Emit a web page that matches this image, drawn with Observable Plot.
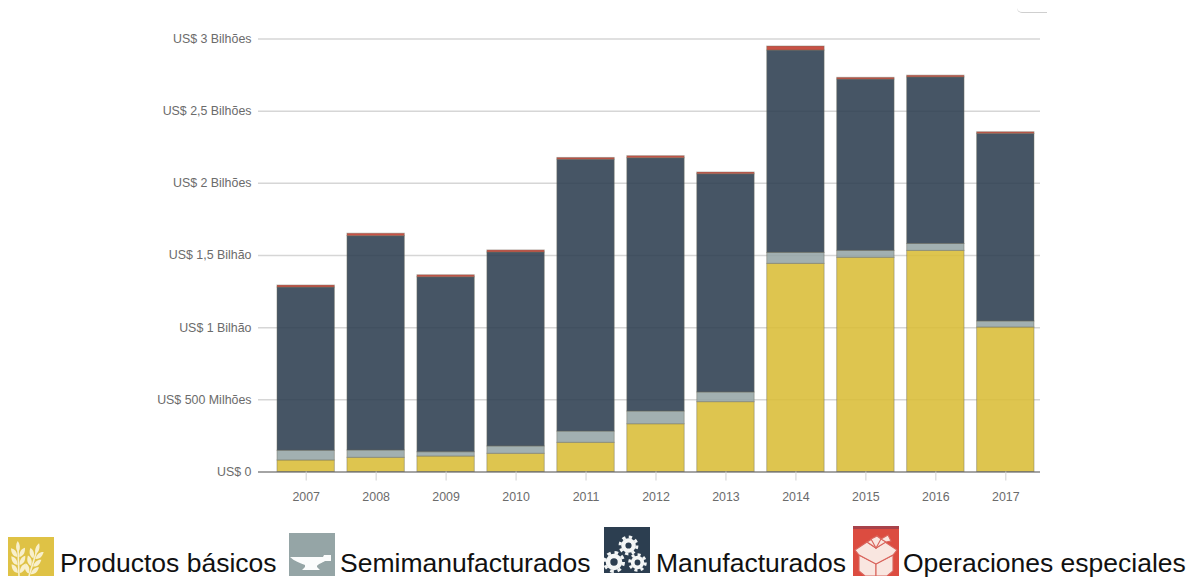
<!doctype html>
<html lang="pt">
<head>
<meta charset="utf-8">
<script src="https://cdn.jsdelivr.net/npm/d3@7"></script>
<script src="https://cdn.jsdelivr.net/npm/@observablehq/plot@0.6"></script>
<style>
  html, body { margin: 0; background: #fff; }
  #page { position: relative; width: 1195px; height: 579px; overflow: hidden; font-family: "Liberation Sans", Arial, sans-serif; }
  #chart svg { display: block; }
  .key { position: absolute; display: block; }
  .keytext { position: absolute; top: 547px; font-size: 26.5px; line-height: 32px; color: #111; white-space: nowrap; }
  #corner { position: absolute; left: 1017px; top: 7px; width: 30px; height: 5px; border-bottom: 1.5px solid #cfcfcf; border-bottom-left-radius: 5px; }
</style>
</head>
<body>
<div id="page">
  <div id="chart"></div>
  <div id="corner"></div>

  <!-- Legend: one small pictogram per series -->
  <svg class="key" style="left:8px;top:537px" width="46" height="39" viewBox="0 0 46 39">
    <defs>
      <g id="ear" fill="#f8f0cc">
        <path d="M0 36 V-2" stroke="#f8f0cc" stroke-width="1.6" fill="none"/>
        <path id="kernel-l" d="M-1 9 C-6 8 -7 4 -7 0 C-3 1 -1 4 -1 9 Z"/>
        <path d="M1 9 C6 8 7 4 7 0 C3 1 1 4 1 9 Z"/>
        <path d="M-1 17 C-6 16 -7 12 -7 8 C-3 9 -1 12 -1 17 Z"/>
        <path d="M1 17 C6 16 7 12 7 8 C3 9 1 12 1 17 Z"/>
        <path d="M-1 25 C-6 24 -7 20 -7 16 C-3 17 -1 20 -1 25 Z"/>
        <path d="M1 25 C6 24 7 20 7 16 C3 17 1 20 1 25 Z"/>
        <path d="M0 4 C-3 1 -2 -4 0 -7 C2 -4 3 1 0 4 Z"/>
      </g>
    </defs>
    <rect width="46" height="39" fill="#dfc245"/>
    <use href="#ear" transform="translate(10 11) rotate(-2)"/>
    <use href="#ear" transform="translate(29 13) rotate(17)"/>
  </svg>
  <div class="keytext" style="left:60px">Productos básicos</div>

  <svg class="key" style="left:289px;top:533px" width="46" height="43" viewBox="0 0 46 43">
    <rect width="46" height="43" fill="#95a5a6"/>
    <path d="M1 24 H34 L35 22 H42 V28 H36 C33 30 29 31 28 33 V34 L31 37 H13 L16 34 V32 C11 30 5 28 1 24 Z" fill="#fbfcfc"/>
  </svg>
  <div class="keytext" style="left:340px">Semimanufacturados</div>

  <svg class="key" style="left:604px;top:527px" width="46" height="46" viewBox="0 0 46 46">
    <rect width="46" height="46" fill="#2c3e50"/>
    <g fill="none" stroke="#f4f6f6">
      <circle cx="24.5" cy="18.5" r="5.2" stroke-width="4.2"/>
      <circle cx="24.5" cy="18.5" r="8.4" stroke-width="3" stroke-dasharray="3.3 3.3"/>
      <circle cx="10" cy="35" r="6" stroke-width="4.6"/>
      <circle cx="10" cy="35" r="9.5" stroke-width="3" stroke-dasharray="3.7 3.8"/>
      <circle cx="33.5" cy="35.5" r="4.8" stroke-width="3.8"/>
      <circle cx="33.5" cy="35.5" r="7.8" stroke-width="3" stroke-dasharray="3 3.1"/>
    </g>
  </svg>
  <div class="keytext" style="left:656px">Manufacturados</div>

  <svg class="key" style="left:853px;top:526px" width="46" height="50" viewBox="0 0 46 50">
    <rect width="46" height="50" fill="#dc4c40"/>
    <rect width="46" height="3" fill="#a8424a"/>
    <g fill="#f9e6e0" stroke="#d9645c" stroke-width="1.1">
      <path d="M6 29 L23 38 V50 H12 L6 45 Z"/>
      <path d="M40 29 L23 38 V50 H34 L40 45 Z"/>
      <path d="M6 29 L2 24 L14 16 L23 22 L32 16 L44 24 L40 29 L23 38 Z"/>
      <path d="M14 16 L24 10 L33 16 L23 22 Z"/>
      <path d="M18 13 L23 22 L28 13 L24 10 Z"/>
      <path d="M28 13 L35 9 L38 15 L33 16 Z"/>
    </g>
  </svg>
  <div class="keytext" style="left:903px">Operaciones especiales</div>
</div>

<script>
// Annual totals per category, in millions of US dollars
const years = ["2007","2008","2009","2010","2011","2012","2013","2014","2015","2016","2017"];
const basicos   = [80, 98, 107, 126, 202, 331, 484, 1442, 1484, 1532, 1001];
const semi      = [67, 51, 30, 51, 78, 88, 67, 76, 48, 48, 42];
const manufact  = [1131, 1485, 1212, 1344, 1884, 1755, 1512, 1402, 1187, 1154, 1300];
const especiais = [14, 17, 14, 14, 12, 14, 12, 28, 12, 12, 11];

const seriesNames  = ["Productos básicos", "Semimanufacturados", "Manufacturados", "Operaciones especiales"];
const seriesValues = [basicos, semi, manufact, especiais];
const seriesColors = ["#dabd37", "#95a5a6", "#2c3e50", "#c0392b"];

const yTicks  = [0, 500, 1000, 1500, 2000, 2500, 3000];
const yLabels = ["US$ 0", "US$ 500 Milhões", "US$ 1 Bilhão", "US$ 1,5 Bilhão", "US$ 2 Bilhões", "US$ 2,5 Bilhões", "US$ 3 Bilhões"];

// Long table, stacked in series order
const rows = seriesNames.flatMap((name, s) =>
  years.map((year, i) => ({year, name, value: seriesValues[s][i]}))
);

const plot = Plot.plot({
  width: 1195,
  height: 510,
  marginTop: 38.5,
  marginBottom: 38.5,
  marginLeft: 258,
  marginRight: 155,
  style: {fontFamily: '"Liberation Sans", Arial, sans-serif', fontSize: "12.4px", background: "transparent"},
  x: {domain: years, paddingInner: 0.18, paddingOuter: 0.1786, align: 0.76, round: false, label: null},
  y: {domain: [0, 3000], label: null},
  color: {domain: seriesNames, range: seriesColors},
  marks: [
    Plot.ruleY(yTicks.slice(1), {stroke: "#d6d6d6", strokeWidth: 1.5}),
    Plot.barY(rows, {
      x: "year",
      y: "value",
      z: "name",
      fill: "name",
      fillOpacity: 0.88,
      stroke: "#6f6f5f",
      strokeOpacity: 0.45,
      strokeWidth: 1
    }),
    Plot.ruleY([0], {stroke: "#4a4a4a", strokeWidth: 1.2}),
    Plot.axisY({
      ticks: yTicks,
      tickSize: 0,
      tickPadding: 7,
      tickFormat: (d) => yLabels[yTicks.indexOf(d)],
      fill: "#6b6b6b",
      label: null
    }),
    Plot.axisX({
      tickSize: 9,
      tickPadding: 11,
      stroke: "#d0d0d0",
      fill: "#6b6b6b",
      label: null
    })
  ]
});

document.getElementById("chart").append(plot);
</script>
</body>
</html>
